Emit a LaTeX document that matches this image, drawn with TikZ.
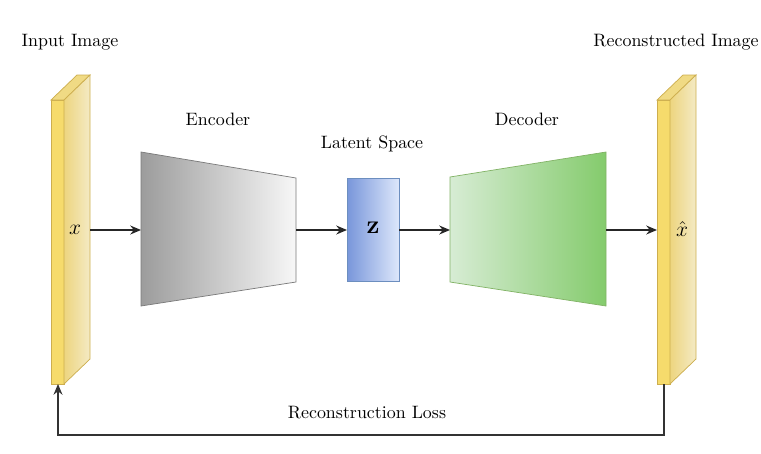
\documentclass[tikz,border=0pt]{standalone}
\usetikzlibrary{arrows.meta}
\definecolor{slabfront}{HTML}{F6DB6C}
\definecolor{slabtop}{HTML}{F0DA84}
\definecolor{slabsideA}{HTML}{EDD57F}
\definecolor{slabsideB}{HTML}{F4EAC4}
\definecolor{slabedge}{HTML}{CDAE4E}
\definecolor{encA}{HTML}{9C9C9C}
\definecolor{encB}{HTML}{F7F7F7}
\definecolor{encedge}{HTML}{7A7A7A}
\definecolor{latA}{HTML}{7896DA}
\definecolor{latB}{HTML}{DDE7FB}
\definecolor{latedge}{HTML}{6C8EBF}
\definecolor{decA}{HTML}{D7ECD4}
\definecolor{decB}{HTML}{84CB6C}
\definecolor{decedge}{HTML}{82B366}
\tikzset{
  conn/.style={-{Stealth[length=6pt,width=5pt]},line width=0.7pt,draw=black!85},
  loss/.style={-{Stealth[length=6pt,width=5pt]},line width=0.6pt,draw=black!80},
  caption/.style={font=\normalsize},
  symb/.style={font=\large}
}
\begin{document}
\begin{tikzpicture}[x=0.558pt,y=-0.558pt]
			\useasboundingbox (0,0) rectangle (761,453);
			\def\slabw{13}
			\def\slabd{26}

			% input and reconstructed slabs
			\foreach \sx/\nm in {51/in,657/out}{
				\draw[slabedge,fill=slabfront] (\sx,100) rectangle ({\sx+\slabw},384);
				\draw[slabedge,fill=slabtop] (\sx,100) -- ({\sx+\slabw},100) -- ({\sx+\slabw+\slabd},75) -- ({\sx+\slabd},75) -- cycle;
				\draw[slabedge,left color=slabsideA,right color=slabsideB] ({\sx+\slabw},100) -- ({\sx+\slabw+\slabd},75) -- ({\sx+\slabw+\slabd},359) -- ({\sx+\slabw},384) -- cycle;
				\coordinate (bot \nm) at ({\sx+7},384);
			}
			\coordinate (in e) at (90,230);
			\coordinate (out w) at (657,230);
			\node[symb] (xin) at (75,230) {$x$};
			\node[symb] (xout) at (682,229) {$\hat{x}$};

			% encoder
			\draw[encedge,left color=encA,right color=encB] (141,152) -- (296,178) -- (296,282) -- (141,306) -- cycle;
			\coordinate (enc w) at (141,230);
			\coordinate (enc e) at (296,230);

			% latent
			\draw[latedge,left color=latA,right color=latB] (347,178) rectangle (399,281);
			\coordinate (lat w) at (347,230);
			\coordinate (lat e) at (399,230);
			\node[font=\Large] (z) at (373,228) {$\mathbf{z}$};

			% decoder
			\draw[decedge,left color=decA,right color=decB] (450,177) -- (606,152) -- (606,306) -- (450,282) -- cycle;
			\coordinate (dec w) at (450,230);
			\coordinate (dec e) at (606,230);

			% captions
			\node[caption] (cap in) at (70,42) {Input Image};
			\node[caption] (cap enc) at (218,119) {Encoder};
			\node[caption] (cap lat) at (372,144) {Latent Space};
			\node[caption] (cap dec) at (527,119) {Decoder};
			\node[caption] (cap out) at (676,42) {Reconstructed Image};
			\node[caption] (cap loss) at (367,413) {Reconstruction Loss};

			\draw[conn] (in e) -- (enc w);
			\draw[conn] (enc e) -- (lat w);
			\draw[conn] (lat e) -- (dec w);
			\draw[conn] (dec e) -- (out w);
			\draw[loss] (bot out) -- ++(0,51) -| (bot in);

		\end{tikzpicture}
\end{document}
